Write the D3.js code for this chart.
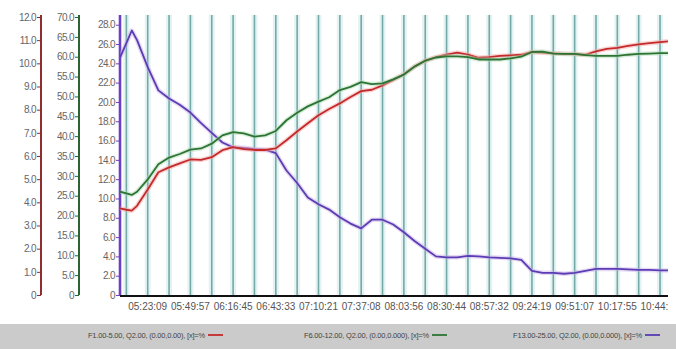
<!DOCTYPE html>
<html>
<head>
<meta charset="utf-8">
<script src="https://cdn.jsdelivr.net/npm/d3@7"></script>
<style>
  html, body { margin: 0; padding: 0; background: #fff; }
  svg { display: block; font-family: "Liberation Sans", Arial, sans-serif; }
</style>
</head>
<body>
<svg id="chart" width="676" height="349"></svg>
<script>
// Sample times, minutes relative to 05:23:09
const sampleMinutes = [-17.4, -13.4, -10.0, -6.7, 0, 6.7, 13.4, 20.1, 26.8, 33.5, 40.2, 46.9, 53.6,
  60.3, 67, 73.7, 80.4, 87.1, 93.8, 100.5, 107.2, 113.9, 120.6, 127.3, 134, 140.7, 147.4,
  154.1, 160.8, 167.5, 174.2, 180.9, 187.6, 194.3, 201, 207.7, 214.4, 221.1, 227.8, 234.5,
  241.2, 247.9, 254.6, 261.3, 268, 274.7, 281.4, 288.1, 294.8, 301.5, 308.2, 314.9, 321.6, 326.6];

// F1.00-5.00 (left, red axis 0-12)
const seriesF1 = [3.74, 3.68, 3.64, 3.85, 4.55, 5.30, 5.51, 5.68, 5.85, 5.83, 5.95, 6.25, 6.38,
  6.30, 6.26, 6.26, 6.33, 6.68, 7.06, 7.41, 7.76, 8.03, 8.27, 8.55, 8.80, 8.86, 9.05,
  9.28, 9.53, 9.86, 10.11, 10.27, 10.38, 10.46, 10.38, 10.24, 10.27, 10.32, 10.34, 10.37,
  10.49, 10.46, 10.43, 10.41, 10.40, 10.37, 10.52, 10.62, 10.67, 10.75, 10.82, 10.87, 10.92, 10.95];

// F6.00-12.00 (green axis 0-70)
const seriesF6 = [26.0, 25.6, 25.2, 26.0, 29.1, 32.9, 34.6, 35.5, 36.6, 36.9, 38.1, 40.2, 41.0,
  40.7, 39.9, 40.2, 41.3, 44.0, 45.9, 47.5, 48.7, 49.8, 51.6, 52.4, 53.6, 53.1, 53.3,
  54.3, 55.5, 57.5, 59.0, 59.8, 60.1, 60.1, 59.9, 59.3, 59.3, 59.3, 59.6, 60.0,
  61.2, 61.3, 60.8, 60.7, 60.7, 60.4, 60.2, 60.2, 60.2, 60.5, 60.7, 60.8, 60.9, 60.9];

// F13.00-25.00 (purple axis 0-28)
const seriesF13 = [24.6, 26.1, 27.4, 26.4, 23.6, 21.2, 20.35, 19.7, 18.9, 17.8, 16.8, 15.8, 15.3,
  15.25, 15.1, 15.05, 14.7, 12.9, 11.6, 10.1, 9.4, 8.85, 8.05, 7.4, 6.9, 7.8, 7.8,
  7.3, 6.5, 5.6, 4.8, 4.0, 3.9, 3.9, 4.05, 4.0, 3.9, 3.85, 3.8, 3.65,
  2.5, 2.3, 2.3, 2.2, 2.3, 2.5, 2.7, 2.7, 2.7, 2.65, 2.6, 2.6, 2.55, 2.55];

// Time axis labels and their positions (minutes relative to 05:23:09)
const tickLabels = ["05:23:09", "05:49:57", "06:16:45", "06:43:33", "07:10:21", "07:37:08",
  "08:03:56", "08:30:44", "08:57:32", "09:24:19", "09:51:07", "10:17:55", "10:44:43"];
const tickMinutes = [0, 26.8, 53.6, 80.4, 107.2, 134, 160.8, 187.6, 214.4, 241.2, 268, 294.8, 321.6];
// Vertical grid lines every 13.4 minutes
const gridMinutes = [-13.4, 0, 13.4, 26.8, 40.2, 53.6, 67, 80.4, 93.8, 107.2, 120.6, 134,
  147.4, 160.8, 174.2, 187.6, 201, 214.4, 227.8, 241.2, 254.6, 268, 281.4, 294.8, 308.2, 321.6];

const ticksF1 = [0, 1, 2, 3, 4, 5, 6, 7, 8, 9, 10, 11, 12];
const ticksF6 = [0, 5, 10, 15, 20, 25, 30, 35, 40, 45, 50, 55, 60, 65, 70];
const ticksF13 = [0, 2, 4, 6, 8, 10, 12, 14, 16, 18, 20, 22, 24, 26, 28];

const legendLabels = ["F1.00-5.00, Q2.00, (0.00,0.00), [x]=%",
  "F6.00-12.00, Q2.00, (0.00,0.000), [x]=%",
  "F13.00-25.00, Q2.00, (0.00,0.000), [x]=%"];

const colors = { f1: "#c42a2a", f6: "#2c7434", f13: "#5a3cb4" };
const axisColors = { f1: "#8e2e2e", f6: "#2d6232", f13: "#6a40c8" };

const svg = d3.select("#chart");
const plotLeft = 120, plotRight = 668, yBottom = 295, yTop = 17;

const x = d3.scaleLinear().domain([-17.4, 326.6]).range([plotLeft, plotRight]);
const yF1 = d3.scaleLinear().domain([0, 12]).range([yBottom, yTop]);
const yF6 = d3.scaleLinear().domain([0, 70]).range([yBottom, yTop]);
const yF13 = d3.scaleLinear().domain([0, 28.8]).range([yBottom, yTop]);

// clip for plot contents
svg.append("defs").append("clipPath").attr("id", "plotClip")
  .append("rect").attr("x", plotLeft).attr("y", 0).attr("width", plotRight - plotLeft).attr("height", 349);

// grid lines
const grid = svg.append("g");
grid.selectAll("line.halo").data(gridMinutes).join("line")
  .attr("x1", d => x(d)).attr("x2", d => x(d))
  .attr("y1", yTop - 2).attr("y2", yBottom)
  .attr("stroke", "#e3f3f3").attr("stroke-width", 6);
grid.selectAll("line.g").data(gridMinutes).join("line")
  .attr("x1", d => x(d)).attr("x2", d => x(d))
  .attr("y1", yTop - 2).attr("y2", yBottom)
  .attr("stroke", "#74a9a6").attr("stroke-width", 1.6);

// vertical value axes
function valueAxis(scale, ticks, xPos, color, width, fmt) {
  const axis = d3.axisLeft(scale).tickValues(ticks).tickSize(4).tickPadding(1)
    .tickFormat(fmt);
  const g = svg.append("g").attr("transform", `translate(${xPos},0)`).call(axis);
  g.select(".domain").remove();
  g.append("line").attr("x1", 0).attr("x2", 0).attr("y1", yTop - 2).attr("y2", yBottom)
    .attr("stroke", color).attr("stroke-width", width);
  g.selectAll(".tick line").attr("stroke", color).attr("stroke-width", 1);
  g.selectAll(".tick text").attr("fill", "#666").attr("font-size", 10)
    .attr("letter-spacing", -0.6).attr("font-family", "'Liberation Sans', Arial, sans-serif");
  return g;
}
const fmt1 = d => d === 0 ? "0" : d3.format(".1f")(d);
valueAxis(yF1, ticksF1, 41, axisColors.f1, 2, fmt1);
valueAxis(yF6, ticksF6, 79, axisColors.f6, 2, fmt1);
valueAxis(yF13, ticksF13, 120, axisColors.f13, 2.6, fmt1);

// series lines
const idx = d3.range(sampleMinutes.length);
const lines = svg.append("g").attr("clip-path", "url(#plotClip)");
function drawSeries(values, yScale, color, halo) {
  const gen = d3.line().x(i => x(sampleMinutes[i])).y(i => yScale(values[i])).curve(d3.curveLinear);
  lines.append("path").datum(idx).attr("d", gen).attr("fill", "none")
    .attr("stroke", halo).attr("stroke-width", 4.5).attr("stroke-linejoin", "round");
  lines.append("path").datum(idx).attr("d", gen).attr("fill", "none")
    .attr("stroke", color).attr("stroke-width", 1.8).attr("stroke-linejoin", "round");
}
drawSeries(seriesF13, yF13, colors.f13, "rgba(200,170,230,0.45)");
drawSeries(seriesF1, yF1, colors.f1, "rgba(245,170,170,0.5)");
drawSeries(seriesF6, yF6, colors.f6, "rgba(170,215,175,0.45)");

// time axis
const xAxisG = svg.append("g").attr("clip-path", "url(#plotClip)");
xAxisG.append("line").attr("x1", plotLeft - 2).attr("x2", plotRight)
  .attr("y1", yBottom + 1).attr("y2", yBottom + 1)
  .attr("stroke", "#111").attr("stroke-width", 2.2);
xAxisG.selectAll("text").data(tickLabels).join("text")
  .attr("x", (d, i) => x(tickMinutes[i]))
  .attr("y", yBottom + 15)
  .attr("text-anchor", "middle")
  .attr("font-size", 10).attr("letter-spacing", 0)
  .attr("fill", "#555")
  .text(d => d);

// legend band
svg.append("rect").attr("x", 0).attr("y", 324).attr("width", 676).attr("height", 25)
  .attr("fill", "#cbcbcb");
const legendLineStarts = [208, 432, 645];
const legendColors = [colors.f1, colors.f6, colors.f13];
const legend = svg.append("g");
legendLabels.forEach((lab, i) => {
  legend.append("text").attr("x", legendLineStarts[i] - 3).attr("y", 337.5)
    .attr("text-anchor", "end").attr("font-size", 7.5).attr("letter-spacing", -0.2)
    .attr("fill", "#444").text(lab);
  legend.append("line").attr("x1", legendLineStarts[i]).attr("x2", legendLineStarts[i] + 15)
    .attr("y1", 335).attr("y2", 335).attr("stroke", legendColors[i]).attr("stroke-width", 1.8);
});
</script>
</body>
</html>
